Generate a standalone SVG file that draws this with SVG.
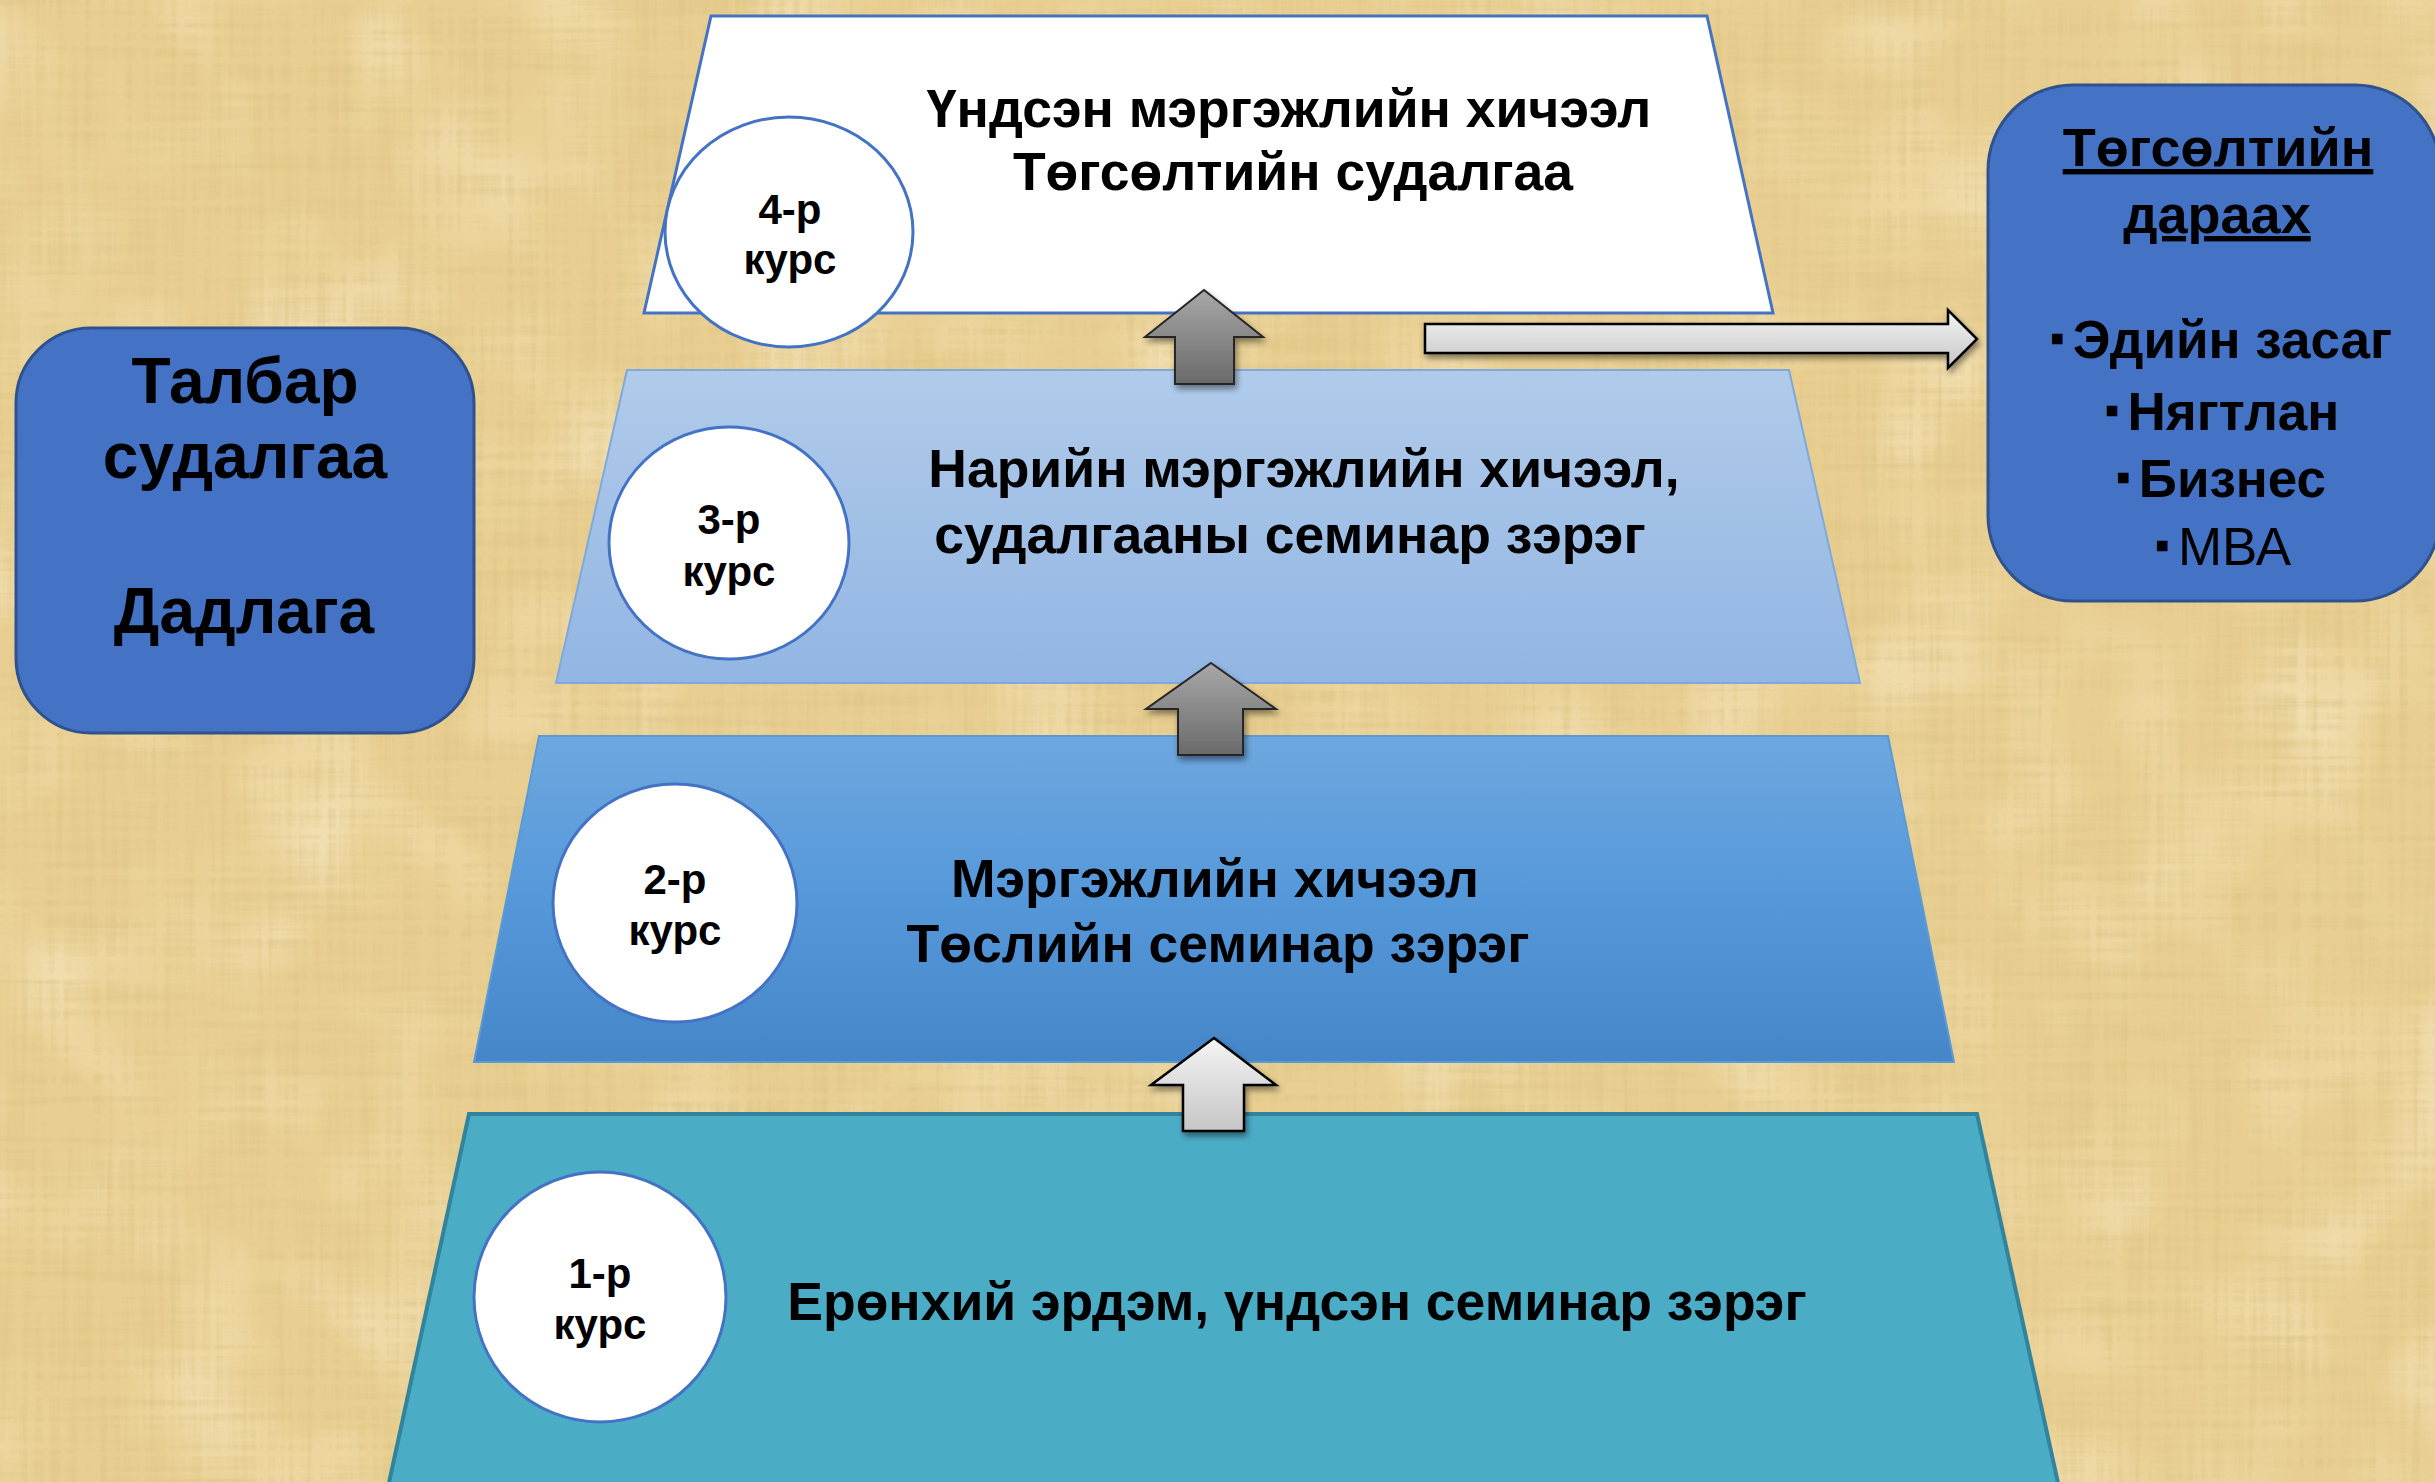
<svg xmlns="http://www.w3.org/2000/svg" width="2435" height="1482" viewBox="0 0 2435 1482">
<defs>
<style>
.t{font-family:"Liberation Sans",Arial,"DejaVu Sans",sans-serif;font-weight:bold;fill:#000;text-anchor:middle}
.lvl{font-size:53.5px}
.crs{font-size:42px}
.side{font-size:64px}
.rh{font-size:54px}
.rt{font-size:53px}
.bul{font-size:42px}
.ell{fill:#fff;stroke:#4472C4;stroke-width:3}
.box{fill:#4472C4;stroke:#2F528F;stroke-width:3}
.darr{fill:url(#gDark);stroke:#262626;stroke-width:2;filter:url(#sh)}
.larr{fill:url(#gLight);stroke:#000;stroke-width:2.5;filter:url(#sh)}
</style>
<linearGradient id="g3" x1="0" y1="0" x2="0" y2="1"><stop offset="0" stop-color="#B0CBEA"/><stop offset="1" stop-color="#92B5E3"/></linearGradient>
<linearGradient id="g2" x1="0" y1="0" x2="0" y2="1"><stop offset="0" stop-color="#6EA7DE"/><stop offset="0.5" stop-color="#5598DA"/><stop offset="1" stop-color="#4586C8"/></linearGradient>
<linearGradient id="gDark" x1="0" y1="0" x2="0" y2="1"><stop offset="0" stop-color="#A8A8A8"/><stop offset="1" stop-color="#6A6A6A"/></linearGradient>
<linearGradient id="gLight" x1="0" y1="0" x2="0" y2="1"><stop offset="0" stop-color="#F4F4F4"/><stop offset="1" stop-color="#C6C6C6"/></linearGradient>
<filter id="sh" x="-20%" y="-20%" width="140%" height="150%">
<feGaussianBlur in="SourceAlpha" stdDeviation="3"/><feOffset dx="2" dy="4" result="b"/>
<feComponentTransfer in="b" result="c"><feFuncA type="linear" slope="0.45"/></feComponentTransfer>
<feMerge><feMergeNode in="c"/><feMergeNode in="SourceGraphic"/></feMerge>
</filter>
<filter id="grain" filterUnits="userSpaceOnUse" x="0" y="0" width="2435" height="1482">
<feTurbulence type="fractalNoise" baseFrequency="0.005 0.14" numOctaves="3" seed="4" result="h"/>
<feTurbulence type="fractalNoise" baseFrequency="0.14 0.005" numOctaves="3" seed="9" result="v"/>
<feComposite in="h" in2="v" operator="arithmetic" k2="0.5" k3="0.5" result="n"/>
<feColorMatrix in="n" type="matrix" values="0 0 0 0 0.72  0 0 0 0 0.56  0 0 0 0 0.24  2.2 0 0 0 -0.98"/>
</filter>
<filter id="grain2" filterUnits="userSpaceOnUse" x="0" y="0" width="2435" height="1482">
<feTurbulence type="fractalNoise" baseFrequency="0.008 0.008" numOctaves="2" seed="21" result="n"/>
<feColorMatrix in="n" type="matrix" values="0 0 0 0 1  0 0 0 0 0.93  0 0 0 0 0.76  1.0 0 0 0 -0.45"/>
</filter>
</defs>

<g id="background">
<rect x="0" y="0" width="2435" height="1482" fill="#E8CE90"/>
<rect x="0" y="0" width="2435" height="1482" filter="url(#grain2)"/>
<rect x="0" y="0" width="2435" height="1482" filter="url(#grain)"/>
</g>

<g id="level1">
<path d="M469,1114 L1977,1114 L2060,1492 L387,1492 Z" fill="#4BACC6" stroke="#31849B" stroke-width="4"/>
<text class="t lvl" x="1297" y="1320">Ерөнхий эрдэм, үндсэн семинар зэрэг</text>
</g>

<g id="level2">
<path d="M539,736 L1888,736 L1954,1062 L474,1062 Z" fill="url(#g2)" stroke="#5B9BD5" stroke-width="2"/>
<text class="t lvl" x="1215" y="897">Мэргэжлийн хичээл</text>
<text class="t lvl" x="1218" y="962">Төслийн семинар зэрэг</text>
</g>

<g id="level3">
<path d="M627,370 L1789,370 L1860,683 L556,683 Z" fill="url(#g3)" stroke="#7EA9DD" stroke-width="2"/>
<text class="t lvl" x="1304" y="487">Нарийн мэргэжлийн хичээл,</text>
<text class="t lvl" x="1290" y="553">судалгааны семинар зэрэг</text>
</g>

<g id="level4">
<path d="M711,16 L1707,16 L1773,313 L644,313 Z" fill="#fff" stroke="#4472C4" stroke-width="3"/>
<text class="t lvl" x="1289" y="127">Үндсэн мэргэжлийн хичээл</text>
<text class="t lvl" x="1293" y="190">Төгсөлтийн судалгаа</text>
</g>

<g id="course1">
<ellipse class="ell" cx="600" cy="1297" rx="126" ry="125"/>
<text class="t crs" x="600" y="1288">1-р</text>
<text class="t crs" x="600" y="1339">курс</text>
</g>
<g id="course2">
<ellipse class="ell" cx="675" cy="903" rx="122" ry="119"/>
<text class="t crs" x="675" y="894">2-р</text>
<text class="t crs" x="675" y="945">курс</text>
</g>
<g id="course3">
<ellipse class="ell" cx="729" cy="543" rx="120" ry="116"/>
<text class="t crs" x="729" y="534">3-р</text>
<text class="t crs" x="729" y="586">курс</text>
</g>
<g id="course4">
<ellipse class="ell" cx="789" cy="232" rx="124" ry="115"/>
<text class="t crs" x="790" y="224">4-р</text>
<text class="t crs" x="790" y="274">курс</text>
</g>

<g id="field-research">
<rect class="box" x="16" y="328" width="458" height="405" rx="75"/>
<text class="t side" x="245" y="403">Талбар</text>
<text class="t side" x="245" y="478">судалгаа</text>
<text class="t side" x="244" y="633">Дадлага</text>
</g>

<g id="after-graduation">
<rect class="box" x="1988" y="85" width="452" height="516" rx="85"/>
<text class="t rh" x="2218" y="166" text-decoration="underline">Төгсөлтийн</text>
<text class="t rh" x="2217" y="233" text-decoration="underline">дараах</text>
<text class="t rt" x="2221" y="358"><tspan class="bul" dy="-6">▪</tspan><tspan dx="8" dy="6">Эдийн засаг</tspan></text>
<text class="t rt" x="2222" y="430"><tspan class="bul" dy="-6">▪</tspan><tspan dx="8" dy="6">Нягтлан</tspan></text>
<text class="t rt" x="2221" y="497"><tspan class="bul" dy="-6">▪</tspan><tspan dx="8" dy="6">Бизнес</tspan></text>
<text class="t rt" x="2223" y="565"><tspan class="bul" dy="-6">▪</tspan><tspan dx="8" dy="6" font-weight="normal">МВА</tspan></text>
</g>

<g id="connectors">
<path class="larr" d="M1214,1038 L1276,1085 L1244,1085 L1244,1131 L1183,1131 L1183,1085 L1151,1085 Z"/>
<path class="darr" d="M1211,663 L1276,709 L1243,709 L1243,755 L1178,755 L1178,709 L1146,709 Z"/>
<path class="darr" d="M1204,290 L1263,337 L1234,337 L1234,384 L1175,384 L1175,337 L1145,337 Z"/>
<path class="larr" d="M1425,324 L1948,324 L1948,310 L1977,339 L1948,368 L1948,353 L1425,353 Z"/>
</g>
</svg>
